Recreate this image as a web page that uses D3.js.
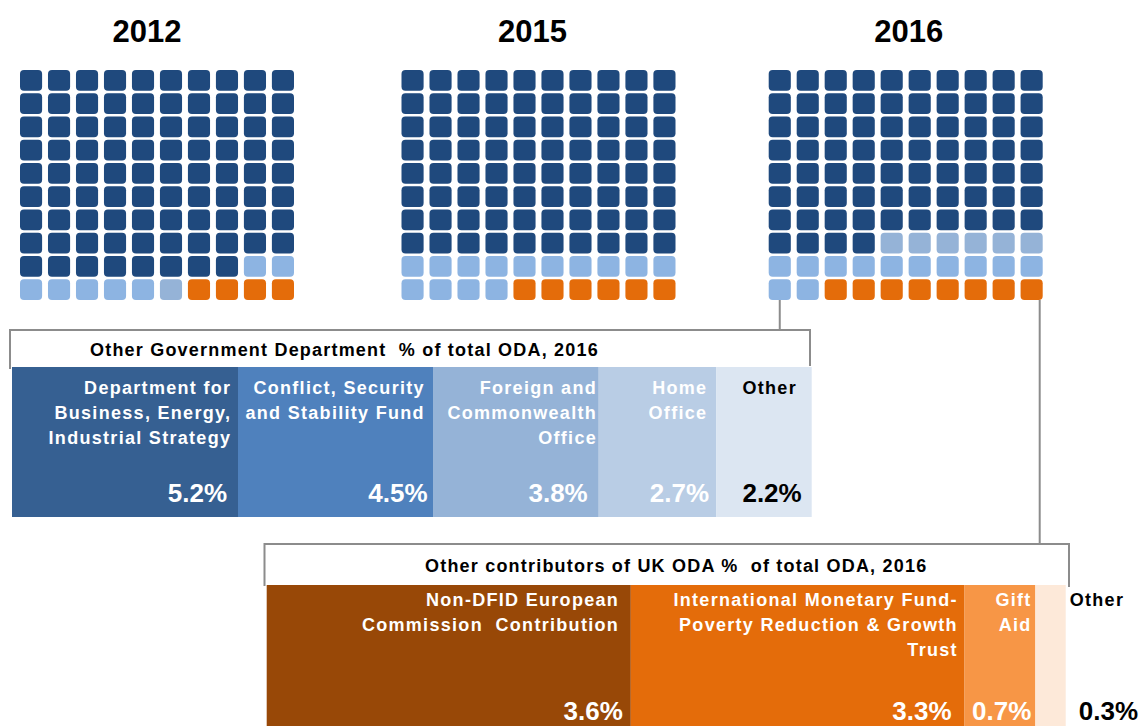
<!DOCTYPE html>
<html>
<head>
<meta charset="utf-8">
<script src="https://cdn.jsdelivr.net/npm/d3@7"></script>
<style>
  body { margin: 0; background: #fff; }
  svg { display: block; font-family: "Liberation Sans", Arial, sans-serif; }
</style>
</head>
<body>
<div id="chart"></div>
<script>
// waffle data: each year is a run of [category, cells], filled row by row
const years = ["2012", "2015", "2016"];
const cells2012 = [["dfid", 88], ["ogd", 7], ["ogdOther", 1], ["contrib", 4]];
const cells2015 = [["dfid", 80], ["ogd", 14], ["contrib", 6]];
const cells2016 = [["dfid", 74], ["ogdOther", 6], ["ogd", 12], ["contrib", 8]];

// other government departments, % of total ODA 2016
const ogdNames = [
  ["Department for", "Business, Energy,", "Industrial Strategy"],
  ["Conflict, Security", "and Stability Fund"],
  ["Foreign and", "Commonwealth", "Office"],
  ["Home", "Office"],
  ["Other"]
];
const ogdValues = [5.2, 4.5, 3.8, 2.7, 2.2];

// other contributors of UK ODA, % of total ODA 2016
const contribNames = [
  ["Non-DFID European", "Commission\u00a0 Contribution"],
  ["International Monetary Fund-", "Poverty Reduction & Growth", "Trust"],
  ["Gift", "Aid"],
  ["Other"]
];
const contribValues = [3.6, 3.3, 0.7, 0.3];

const W = 1142, H = 726;
const cellColor = {dfid: "#1f497d", ogd: "#8db4e2", ogdOther: "#95b3d7", contrib: "#e46c0a"};
const ogdColors = ["#366092", "#4f81bd", "#95b3d7", "#b9cde5", "#dce6f2"];
const contribColors = ["#984807", "#e46c0a", "#f79646", "#fde9d9"];
const lineColor = "#8c8c8c";

const svg = d3.select("#chart").append("svg")
  .attr("width", W)
  .attr("height", H);

// ---- waffles
const gridLeft = [20, 401.5, 768.7];
const gridTop = 70;
const yBand = d3.scaleBand().domain(d3.range(10)).range([gridTop, gridTop + 230]).paddingInner(0.11);
const allCells = [cells2012, cells2015, cells2016];
const xBands = [];

years.forEach((yr, k) => {
  const xBand = d3.scaleBand().domain(d3.range(10)).range([gridLeft[k], gridLeft[k] + 274]).paddingInner(0.21);
  xBands.push(xBand);
  // expand runs into 100 cells
  let flat = [];
  allCells[k].forEach(run => {
    for (let i = 0; i < run[1]; i++) flat.push(run[0]);
  });
  const g = svg.append("g");
  g.selectAll("rect")
    .data(flat)
    .enter()
    .append("rect")
      .attr("x", (d, i) => xBand(i % 10))
      .attr("y", (d, i) => yBand(Math.floor(i / 10)))
      .attr("width", xBand.bandwidth())
      .attr("height", yBand.bandwidth())
      .attr("rx", 4)
      .attr("ry", 4)
      .attr("fill", d => cellColor[d]);
  svg.append("text")
    .attr("x", gridLeft[k] + 137 + [-10, -6, 3][k])
    .attr("y", 42)
    .attr("text-anchor", "middle")
    .attr("font-size", "31px")
    .attr("font-weight", "bold")
    .text(yr);
});

// ---- breakdown panels
function panel(opts) {
  const x = d3.scaleLinear()
    .domain([0, d3.sum(opts.values)])
    .range([opts.x0, opts.x1]);
  let cum = 0;
  const bars = opts.values.map((v, i) => {
    const b = {name: opts.names[i], value: v, a: cum, b: cum + v, i: i};
    cum += v;
    return b;
  });
  const g = svg.append("g");
  g.selectAll("rect")
    .data(bars)
    .enter()
    .append("rect")
      .attr("x", d => x(d.a))
      .attr("y", opts.barTop)
      .attr("width", d => x(d.b) - x(d.a))
      .attr("height", opts.barBottom - opts.barTop)
      .attr("fill", (d, i) => opts.colors[i]);

  // category names
  g.selectAll("text.name")
    .data(bars)
    .enter()
    .append("text")
      .attr("class", "name")
      .attr("font-size", "18px")
      .attr("font-weight", "bold")
      .attr("letter-spacing", "1.3px")
      .attr("fill", (d, i) => opts.dark[i] ? "#000" : "#fff")
      .attr("text-anchor", (d, i) => opts.outside[i] ? "start" : "end")
      .each(function(d, i) {
        const tx = opts.outside[i] ? x(d.b) + 4 : x(d.b) - opts.namePad[i] + 1.3;
        d3.select(this).selectAll("tspan")
          .data(d.name)
          .enter()
          .append("tspan")
            .attr("x", tx)
            .attr("y", (s, j) => opts.nameTop + j * 24.8)
            .text(s => s);
      });

  // values
  g.selectAll("text.val")
    .data(bars)
    .enter()
    .append("text")
      .attr("class", "val")
      .attr("x", (d, i) => opts.outside[i] ? opts.outsideValX : x(d.b) - opts.valPad[i])
      .attr("y", opts.valY)
      .attr("text-anchor", "end")
      .attr("font-size", "26px")
      .attr("font-weight", "bold")
      .attr("fill", (d, i) => opts.dark[i] ? "#000" : "#fff")
      .text(d => d.value.toFixed(1) + "%");

  // title
  svg.append("text")
    .attr("x", opts.titleX)
    .attr("y", opts.titleY)
    .attr("font-size", "18px")
    .attr("font-weight", "bold")
    .attr("letter-spacing", "1.2px")
    .attr("fill", "#000")
    .text(opts.title);
}

panel({
  values: ogdValues, names: ogdNames, colors: ogdColors,
  x0: 12, x1: 811.7, barTop: 367, barBottom: 517,
  nameTop: 394, valY: 502,
  namePad: [8, 10, 3, 10, 16], valPad: [11, 6, 11, 7, 10],
  dark: [false, false, false, false, true], outside: [false, false, false, false, false],
  title: "Other Government Department\u00a0 % of total ODA, 2016", titleX: 90, titleY: 356
});

panel({
  values: contribValues, names: contribNames, colors: contribColors,
  x0: 266.7, x1: 1065.7, barTop: 585, barBottom: 740,
  nameTop: 606, valY: 720,
  namePad: [13, 8, 5, 0], valPad: [8, 13, 4, 0],
  dark: [false, false, false, true], outside: [false, false, false, true],
  outsideValX: 1138,
  title: "Other contributors of UK ODA %\u00a0 of total ODA, 2016", titleX: 425, titleY: 572
});

// ---- connector lines and panel frames
const frame = svg.append("g")
  .attr("fill", "none")
  .attr("stroke", lineColor)
  .attr("stroke-width", 2);
const x16 = xBands[2];
const gridBottom = yBand(9) + yBand.bandwidth();
frame.append("path")
  .attr("d", d3.line()([[x16(0) + x16.bandwidth() / 2, gridBottom], [x16(0) + x16.bandwidth() / 2, 330]]));
frame.append("path")
  .attr("d", d3.line()([[10, 369], [10, 330], [810, 330], [810, 366]]));
frame.append("path")
  .attr("d", d3.line()([[x16(9) + x16.bandwidth() - 3, gridBottom], [x16(9) + x16.bandwidth() - 3, 544]]));
frame.append("path")
  .attr("d", d3.line()([[264.5, 586], [264.5, 544], [1069, 544], [1069, 587]]));
</script>
</body>
</html>
